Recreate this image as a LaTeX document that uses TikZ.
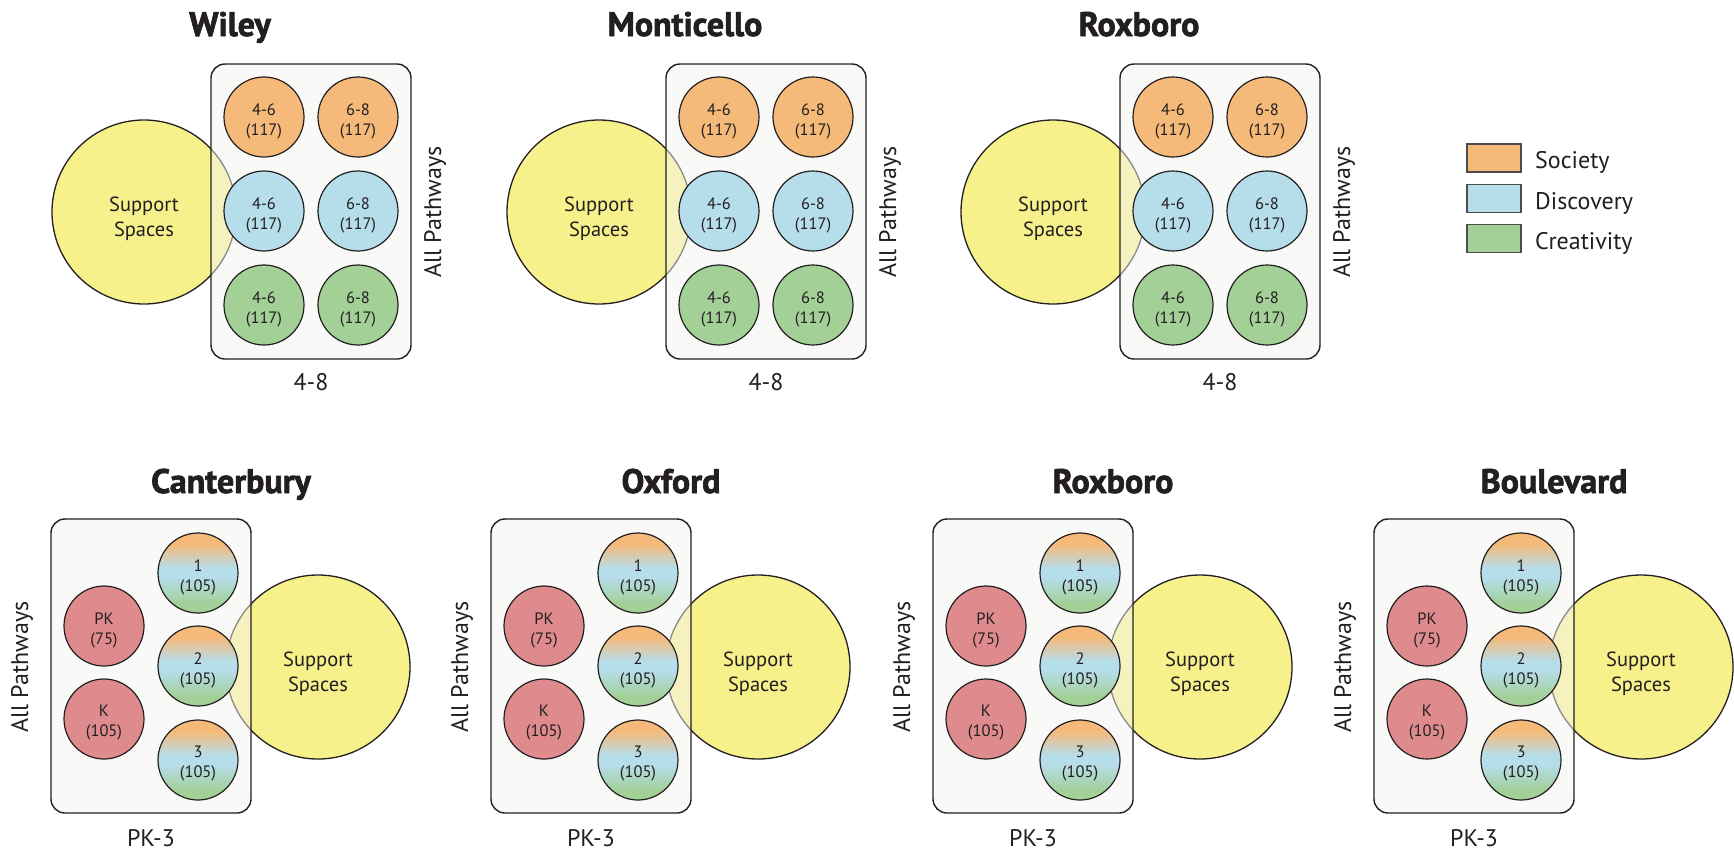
\documentclass[tikz,border=0pt]{standalone}
\usepackage{fontspec}
\setmainfont{PT Sans}
\newfontfamily\titlefont[FakeBold=2]{PT Sans Bold}
\definecolor{corange}{HTML}{F5BA7A}
\definecolor{cblue}{HTML}{B6DDEA}
\definecolor{cgreen}{HTML}{A2D097}
\definecolor{cred}{HTML}{DF8B8E}
\definecolor{cyellow}{HTML}{F7F18C}
\definecolor{boxfill}{HTML}{F5F4F2}
\definecolor{ink}{HTML}{231F20}
\pgfdeclareverticalshading{pathway}{100bp}{color(0bp)=(cgreen); color(31bp)=(cgreen); color(47bp)=(cblue); color(53bp)=(cblue); color(68bp)=(corange); color(100bp)=(corange)}
\tikzset{
  ss/.style={circle, draw=ink, line width=1.3pt, fill=cyellow, minimum size=184pt, inner sep=0pt},
  grp/.style={rectangle, rounded corners=14pt, draw=ink, line width=1.4pt, fill=boxfill, fill opacity=0.5, draw opacity=1, minimum width=200pt, minimum height=295pt, inner sep=0pt},
  pc/.style={circle, draw=ink, line width=1.2pt, minimum size=80pt, inner sep=0pt},
  lbl/.style={font=\fontsize{16.5}{20}\selectfont, align=center, text=ink, inner sep=0pt},
  sstext/.style={font=\fontsize{20.5}{25}\selectfont, align=center, text=ink, inner sep=0pt},
  ttl/.style={font=\titlefont\fontsize{34}{38}\selectfont, text=ink, anchor=base, inner sep=0pt},
  side/.style={font=\fontsize{24}{28}\selectfont, text=ink, rotate=90, inner sep=0pt},
  grade/.style={font=\fontsize{24}{28}\selectfont, text=ink, anchor=base, inner sep=0pt},
  legbox/.style={rectangle, draw=ink!80, line width=1.2pt, minimum width=54pt, minimum height=28pt, inner sep=0pt},
  legtext/.style={font=\fontsize{24}{28}\selectfont, text=ink, anchor=base west, inner sep=0pt},
}
\newcommand\pcirc[5]{%
  \node[pc, #4] (#1) at (#2,#3) {};
  \node[lbl] (#1t) at ([yshift=-4pt]#1.center) {#5};}
\newcommand\topgroup[3]{%
  \begin{scope}[shift={(#1,0)}]
    \node[ss] (#3ss) at (144,212) {};
    \node[grp] (#3box) at (311,211.5) {};
    \node[sstext] (#3sst) at (144,219) {Support\\Spaces};
    \pcirc{#3a}{264}{117}{fill=corange}{4-6\\(117)}
    \pcirc{#3b}{358}{117}{fill=corange}{6-8\\(117)}
    \pcirc{#3c}{264}{211}{fill=cblue}{4-6\\(117)}
    \pcirc{#3d}{358}{211}{fill=cblue}{6-8\\(117)}
    \pcirc{#3e}{264}{305}{fill=cgreen}{4-6\\(117)}
    \pcirc{#3f}{358}{305}{fill=cgreen}{6-8\\(117)}
    \node[ttl] (#3title) at (230,36) {#2};
    \node[side] (#3side) at (435,212) {All Pathways};
    \node[grade] (#3grade) at (311,390) {4-8};
  \end{scope}}
\newcommand\botgroup[3]{%
  \begin{scope}[shift={(#1,0)}]
    \node[ss] (#3ss) at (318,667) {};
    \node[grp, minimum height=294pt] (#3box) at (151,666) {};
    \node[sstext] (#3sst) at (318,674) {Support\\Spaces};
    \pcirc{#3pk}{104}{626}{fill=cred}{PK\\(75)}
    \pcirc{#3k}{104}{719}{fill=cred}{K\\(105)}
    \pcirc{#3g1}{198}{573}{shade, shading=pathway}{1\\(105)}
    \pcirc{#3g2}{198}{666}{shade, shading=pathway}{2\\(105)}
    \pcirc{#3g3}{198}{760}{shade, shading=pathway}{3\\(105)}
    \node[ttl] (#3title) at (231,493) {#2};
    \node[side] (#3side) at (22,667) {All Pathways};
    \node[grade] (#3grade) at (151,846) {PK-3};
  \end{scope}}
\begin{document}
\begin{tikzpicture}[x=1pt, y=-1pt]
  \useasboundingbox[fill=white] (0,0) rectangle (1734,852);
  \topgroup{0}{Wiley}{wi}
  \topgroup{455}{Monticello}{mo}
  \topgroup{909}{Roxboro}{rt}
  \botgroup{0}{Canterbury}{ca}
  \botgroup{440}{Oxford}{ox}
  \botgroup{882}{Roxboro}{rb}
  \botgroup{1323}{Boulevard}{bo}
  \node[legbox, fill=corange] (lg1) at (1494,158) {};
  \node[legbox, fill=cblue] (lg2) at (1494,198.5) {};
  \node[legbox, fill=cgreen] (lg3) at (1494,238.5) {};
  \node[legtext] (lg1t) at (1535,168) {Society};
  \node[legtext] (lg2t) at (1535,209) {Discovery};
  \node[legtext] (lg3t) at (1535,249) {Creativity};
\end{tikzpicture}
\end{document}
